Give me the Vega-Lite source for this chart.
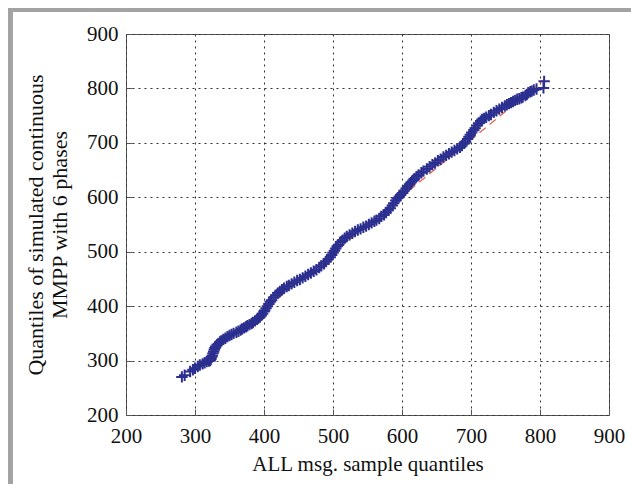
{
  "$schema": "https://vega.github.io/schema/vega-lite/v6.json",
  "width": 483,
  "height": 381,
  "autosize": {"type": "none"},
  "padding": {"left": 126, "top": 34, "right": 22, "bottom": 69},
  "background": "white",
  "config": {
    "view": {"stroke": "#555555", "strokeWidth": 1},
    "axis": {
      "labelFont": "Liberation Serif",
      "titleFont": "Liberation Serif",
      "labelFontSize": 21,
      "titleFontSize": 21,
      "titleFontWeight": "normal",
      "labelColor": "#111111",
      "titleColor": "#111111",
      "labelFlush": false,
      "grid": true,
      "gridColor": "#333333",
      "gridDash": [2, 4],
      "gridOpacity": 1,
      "gridWidth": 1,
      "domain": false,
      "tickColor": "#555555",
      "tickSize": -6,
      "tickWidth": 1
    }
  },
  "data": {
    "values": [
      {"x": 281, "y": 270}, {"x": 285, "y": 273}, {"x": 293, "y": 280}, {"x": 297, "y": 283}, {"x": 300, "y": 286},
      {"x": 304, "y": 289}, {"x": 307, "y": 292}, {"x": 311, "y": 294}, {"x": 314, "y": 296}, {"x": 317, "y": 298},
      {"x": 320, "y": 299}, {"x": 322, "y": 300}, {"x": 323, "y": 303}, {"x": 324, "y": 306}, {"x": 325, "y": 309},
      {"x": 326, "y": 313}, {"x": 327, "y": 316}, {"x": 328, "y": 320}, {"x": 329, "y": 323}, {"x": 330, "y": 326},
      {"x": 332, "y": 329}, {"x": 334, "y": 331}, {"x": 336, "y": 334}, {"x": 338, "y": 336}, {"x": 341, "y": 339},
      {"x": 344, "y": 341}, {"x": 347, "y": 344}, {"x": 350, "y": 346}, {"x": 353, "y": 348}, {"x": 356, "y": 350},
      {"x": 360, "y": 352}, {"x": 363, "y": 354}, {"x": 366, "y": 356}, {"x": 368, "y": 358}, {"x": 371, "y": 360},
      {"x": 374, "y": 362}, {"x": 376, "y": 364}, {"x": 379, "y": 366}, {"x": 382, "y": 368}, {"x": 384, "y": 370},
      {"x": 387, "y": 373}, {"x": 390, "y": 376}, {"x": 392, "y": 378}, {"x": 394, "y": 380}, {"x": 396, "y": 383},
      {"x": 398, "y": 386}, {"x": 400, "y": 390}, {"x": 401, "y": 392}, {"x": 403, "y": 396}, {"x": 405, "y": 400},
      {"x": 407, "y": 404}, {"x": 409, "y": 408}, {"x": 411, "y": 411}, {"x": 414, "y": 416}, {"x": 417, "y": 420},
      {"x": 420, "y": 424}, {"x": 423, "y": 427}, {"x": 426, "y": 430}, {"x": 429, "y": 433}, {"x": 433, "y": 436},
      {"x": 436, "y": 438}, {"x": 440, "y": 441}, {"x": 444, "y": 444}, {"x": 448, "y": 447}, {"x": 452, "y": 449},
      {"x": 456, "y": 452}, {"x": 460, "y": 455}, {"x": 464, "y": 458}, {"x": 468, "y": 461}, {"x": 472, "y": 464},
      {"x": 476, "y": 467}, {"x": 480, "y": 471}, {"x": 483, "y": 474}, {"x": 487, "y": 478}, {"x": 490, "y": 482},
      {"x": 493, "y": 486}, {"x": 496, "y": 490}, {"x": 498, "y": 494}, {"x": 500, "y": 498}, {"x": 502, "y": 502},
      {"x": 504, "y": 506}, {"x": 506, "y": 510}, {"x": 508, "y": 513}, {"x": 511, "y": 518}, {"x": 514, "y": 521},
      {"x": 517, "y": 525}, {"x": 520, "y": 528}, {"x": 524, "y": 531}, {"x": 528, "y": 534}, {"x": 532, "y": 537},
      {"x": 536, "y": 540}, {"x": 540, "y": 542}, {"x": 544, "y": 545}, {"x": 548, "y": 547}, {"x": 552, "y": 550},
      {"x": 556, "y": 553}, {"x": 560, "y": 556}, {"x": 563, "y": 558}, {"x": 567, "y": 561}, {"x": 570, "y": 565},
      {"x": 574, "y": 568}, {"x": 577, "y": 572}, {"x": 580, "y": 576}, {"x": 583, "y": 580}, {"x": 586, "y": 585},
      {"x": 588, "y": 589}, {"x": 591, "y": 594}, {"x": 593, "y": 598}, {"x": 596, "y": 601}, {"x": 598, "y": 604},
      {"x": 601, "y": 608}, {"x": 603, "y": 612}, {"x": 606, "y": 616}, {"x": 608, "y": 620}, {"x": 611, "y": 624},
      {"x": 613, "y": 627}, {"x": 616, "y": 631}, {"x": 618, "y": 634}, {"x": 621, "y": 638}, {"x": 624, "y": 641},
      {"x": 628, "y": 645}, {"x": 631, "y": 648}, {"x": 636, "y": 652}, {"x": 640, "y": 656}, {"x": 644, "y": 660},
      {"x": 648, "y": 663}, {"x": 652, "y": 667}, {"x": 656, "y": 670}, {"x": 660, "y": 674}, {"x": 664, "y": 677},
      {"x": 668, "y": 680}, {"x": 672, "y": 683}, {"x": 676, "y": 686}, {"x": 680, "y": 689}, {"x": 684, "y": 692},
      {"x": 687, "y": 695}, {"x": 690, "y": 699}, {"x": 692, "y": 702}, {"x": 695, "y": 707}, {"x": 697, "y": 711},
      {"x": 699, "y": 715}, {"x": 701, "y": 719}, {"x": 704, "y": 723}, {"x": 706, "y": 727}, {"x": 709, "y": 732},
      {"x": 711, "y": 736}, {"x": 714, "y": 740}, {"x": 716, "y": 743}, {"x": 719, "y": 745}, {"x": 722, "y": 747},
      {"x": 726, "y": 750}, {"x": 729, "y": 752}, {"x": 733, "y": 756}, {"x": 737, "y": 759}, {"x": 741, "y": 762},
      {"x": 745, "y": 765}, {"x": 749, "y": 768}, {"x": 752, "y": 770}, {"x": 755, "y": 772}, {"x": 758, "y": 774},
      {"x": 761, "y": 776}, {"x": 764, "y": 778}, {"x": 767, "y": 780}, {"x": 770, "y": 781}, {"x": 773, "y": 783},
      {"x": 775, "y": 784}, {"x": 779, "y": 787}, {"x": 781, "y": 789}, {"x": 783, "y": 792}, {"x": 786, "y": 794},
      {"x": 788, "y": 795}, {"x": 791, "y": 797}, {"x": 795, "y": 799}, {"x": 805, "y": 801}, {"x": 806, "y": 813}
    ]
  },
  "layer": [
    {
      "data": {"values": [{"x": 290, "y": 279}, {"x": 806, "y": 816}]},
      "mark": {"type": "line", "color": "#E8604F", "strokeDash": [8, 5], "strokeWidth": 1.2},
      "encoding": {
        "x": {"field": "x", "type": "quantitative", "scale": {"domain": [200, 900], "nice": false, "zero": false},
              "axis": {"values": [200, 300, 400, 500, 600, 700, 800, 900], "title": "ALL msg. sample quantiles", "labelPadding": 16, "titlePadding": 7}},
        "y": {"field": "y", "type": "quantitative", "scale": {"domain": [200, 900], "nice": false, "zero": false},
              "axis": {"values": [200, 300, 400, 500, 600, 700, 800, 900], "title": ["Quantiles of simulated continuous", "MMPP with 6 phases"], "titleFontSize": 22, "labelPadding": 14, "titlePadding": 15, "titleLineHeight": 24}}
      }
    },
    {
      "mark": {"type": "point", "shape": "M-1,0L1,0M0,-1L0,1", "filled": false, "color": "#2B2F8F", "size": 130, "strokeWidth": 2, "opacity": 1},
      "encoding": {
        "x": {"field": "x", "type": "quantitative"},
        "y": {"field": "y", "type": "quantitative"}
      }
    },
    {
      "mark": {"type": "rule", "color": "#A3A3A3", "strokeWidth": 4},
      "encoding": {
        "x": {"datum": 29},
        "x2": {"datum": 935},
        "y": {"datum": 944}
      }
    },
    {
      "mark": {"type": "rule", "color": "#A3A3A3", "strokeWidth": 4},
      "encoding": {
        "x": {"datum": 32},
        "y": {"datum": 947},
        "y2": {"datum": 70}
      }
    }
  ]
}
